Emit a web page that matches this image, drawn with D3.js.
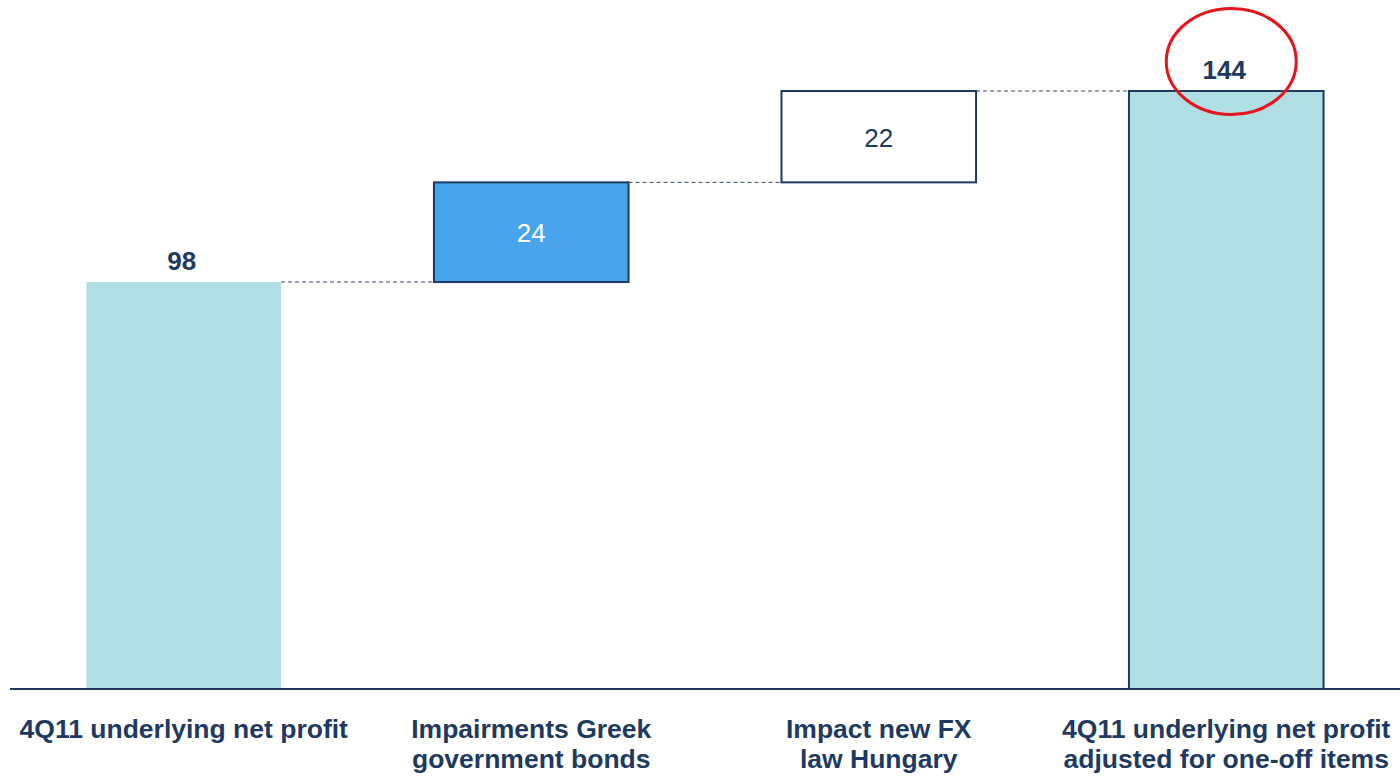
<!DOCTYPE html>
<html><head><meta charset="utf-8">
<script src="https://cdn.jsdelivr.net/npm/d3@7"></script>
<style>html,body{margin:0;padding:0;background:#fff;}svg{display:block;}</style>
</head><body>
<svg id="chart" width="1400" height="776"></svg>
<script>
const categories = [
  ["4Q11 underlying net profit"],
  ["Impairments Greek", "government bonds"],
  ["Impact new FX", "law Hungary"],
  ["4Q11 underlying net profit", "adjusted for one-off items"]
];
const values = [98, 24, 22, 144];
const kinds = ["total", "increase", "increase", "total"];

const navy = "#1f3a60";
const svg = d3.select("#chart");
const baseY = 689;

let run = 0;
const bars = values.map((v, i) => {
  let y0, y1;
  if (kinds[i] === "total") { y0 = 0; y1 = v; run = v; }
  else { y0 = run; y1 = run + v; run = y1; }
  return { i, v, y0, y1, kind: kinds[i] };
});

const x = d3.scaleBand().domain(d3.range(values.length)).range([10, 1400]).paddingInner(0.44).paddingOuter(0.22);
const y = d3.scaleLinear().domain([0, 144]).range([baseY, 91]);

const fills = ["#b0dfe3", "#47a4ec", "#ffffff", "#b0dfe3"];
const strokes = [null, navy, navy, navy];

for (let k = 0; k < bars.length - 1; k++) {
  const lvl = bars[k].y1;
  svg.append("line")
    .attr("x1", x(k) + x.bandwidth()).attr("x2", x(k + 1))
    .attr("y1", y(lvl)).attr("y2", y(lvl))
    .attr("stroke", "#34496a").attr("stroke-width", 1).attr("stroke-dasharray", "4,3");
}

svg.selectAll("rect.bar").data(bars).enter().append("rect")
  .attr("class", "bar")
  .attr("x", d => x(d.i)).attr("width", x.bandwidth())
  .attr("y", d => y(d.y1)).attr("height", d => y(d.y0) - y(d.y1))
  .attr("fill", (d, i) => fills[i])
  .attr("stroke", (d, i) => strokes[i] || "none")
  .attr("stroke-width", 2);

svg.append("line").attr("x1", 10).attr("x2", 1400).attr("y1", baseY).attr("y2", baseY)
  .attr("stroke", navy).attr("stroke-width", 2);

svg.selectAll("text.val").data(bars).enter().append("text")
  .attr("class", "val")
  .attr("x", d => x(d.i) + x.bandwidth() / 2 - (d.kind === "total" ? 2 : 0))
  .attr("y", d => d.kind === "total" ? y(d.y1) - 12 : (y(d.y0) + y(d.y1)) / 2 + 10)
  .attr("text-anchor", "middle")
  .attr("font-family", "Liberation Sans, Arial, sans-serif")
  .attr("font-size", 26)
  .attr("font-weight", d => d.kind === "total" ? "bold" : "normal")
  .attr("fill", (d, i) => i === 1 ? "#ffffff" : navy)
  .text(d => d.v);

const cl = svg.selectAll("text.cat").data(categories).enter().append("text")
  .attr("class", "cat")
  .attr("text-anchor", "middle")
  .attr("font-family", "Liberation Sans, Arial, sans-serif")
  .attr("font-size", 26.5)
  .attr("font-weight", "bold")
  .attr("fill", navy);
cl.each(function (lines, i) {
  const t = d3.select(this);
  lines.forEach((ln, j) => {
    t.append("tspan").attr("x", x(i) + x.bandwidth() / 2).attr("y", 738 + j * 30).text(ln);
  });
});

svg.append("ellipse")
  .attr("cx", x(3) + x.bandwidth() / 2 + 5).attr("cy", 61.5)
  .attr("rx", 65).attr("ry", 53)
  .attr("fill", "none").attr("stroke", "#e8141c").attr("stroke-width", 3);
</script>
</body></html>
